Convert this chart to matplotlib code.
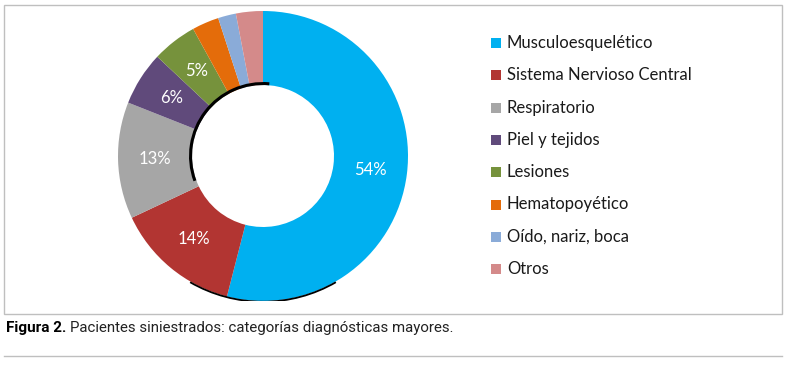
import matplotlib.pyplot as plt
from matplotlib.patches import Rectangle, Arc
from matplotlib.lines import Line2D

# data
categories = ['Musculoesquelético', 'Sistema Nervioso Central', 'Respiratorio',
              'Piel y tejidos', 'Lesiones', 'Hematopoyético', 'Oído, nariz, boca', 'Otros']
values = [54, 14, 13, 6, 5, 3, 2, 3]
colors = ['#00B0F0', '#B23532', '#A6A6A6', '#604A7B', '#76923C', '#E46C0A', '#8AABD8', '#D48A8A']
caption_bold = 'Figura 2.'
caption_text = 'Pacientes siniestrados: categorías diagnósticas mayores.'

W, H = 800, 366
fig = plt.figure(figsize=(W / 100, H / 100), dpi=100)

# frame around the chart
fig.add_artist(Rectangle((4 / W, 1 - 314 / H), 778 / W, 309 / H, transform=fig.transFigure,
                         fill=False, edgecolor='#BFBFBF', linewidth=1))
fig.add_artist(Line2D([4 / W, 782 / W], [1 - 356 / H, 1 - 356 / H], transform=fig.transFigure,
                      color='#BFBFBF', linewidth=1))

# donut
cx, cy, R = 263, 156, 145
ax = fig.add_axes([(cx - R) / W, 1 - (cy + R) / H, 2 * R / W, 2 * R / H])
inner = 71 / R
wedges, texts, autotexts = ax.pie(
    values, colors=colors, startangle=90, counterclock=False, radius=1,
    wedgeprops=dict(width=1 - inner, linewidth=0),
    autopct=lambda p: f'{p:.0f}%' if p >= 5 else '',
    pctdistance=(1 + inner) / 2,
    textprops=dict(color='white', fontsize=12, family=['Lato', 'DejaVu Sans']))
# subtle shadow edges
ax.add_patch(Arc((0, 0), 2 * inner + 0.02, 2 * inner + 0.02, theta1=85, theta2=200,
                 color='black', linewidth=2.2))
ax.add_patch(Arc((0, 0), 2.01, 2.01, theta1=240, theta2=300, color='black', linewidth=1.3))
ax.set_xlim(-1, 1)
ax.set_ylim(-1, 1)
ax.set_aspect('equal')
ax.axis('off')

# legend
y0, dy = 43, 32.3
for i, (lab, col) in enumerate(zip(categories, colors)):
    y = y0 + i * dy
    fig.add_artist(Rectangle((491 / W, 1 - (y + 5) / H), 10 / W, 10 / H,
                             transform=fig.transFigure, color=col, linewidth=0))
    fig.text(507 / W, 1 - y / H, lab, fontsize=12, va='center', ha='left',
             family=['Lato', 'DejaVu Sans'], color='#1a1a1a')

# caption
fam = ['Roboto', 'DejaVu Sans']
t = fig.text(6 / W, 1 - 328 / H, caption_bold, fontsize=11, fontweight='bold', va='center',
             family=fam)
fig.canvas.draw()
bb = t.get_window_extent()
t2 = fig.text((bb.x1 + 4) / W, 1 - 328 / H, caption_text, fontsize=11, va='center',
              family=fam, color='#222222')
fig.canvas.draw()
bb2 = t2.get_window_extent()
# squeeze to the narrow width of the original caption
target = 452 - (bb.x1 + 4)
t2.set_fontsize(11 * target / (bb2.x1 - bb2.x0))

fig.savefig('out.png', dpi=100)
